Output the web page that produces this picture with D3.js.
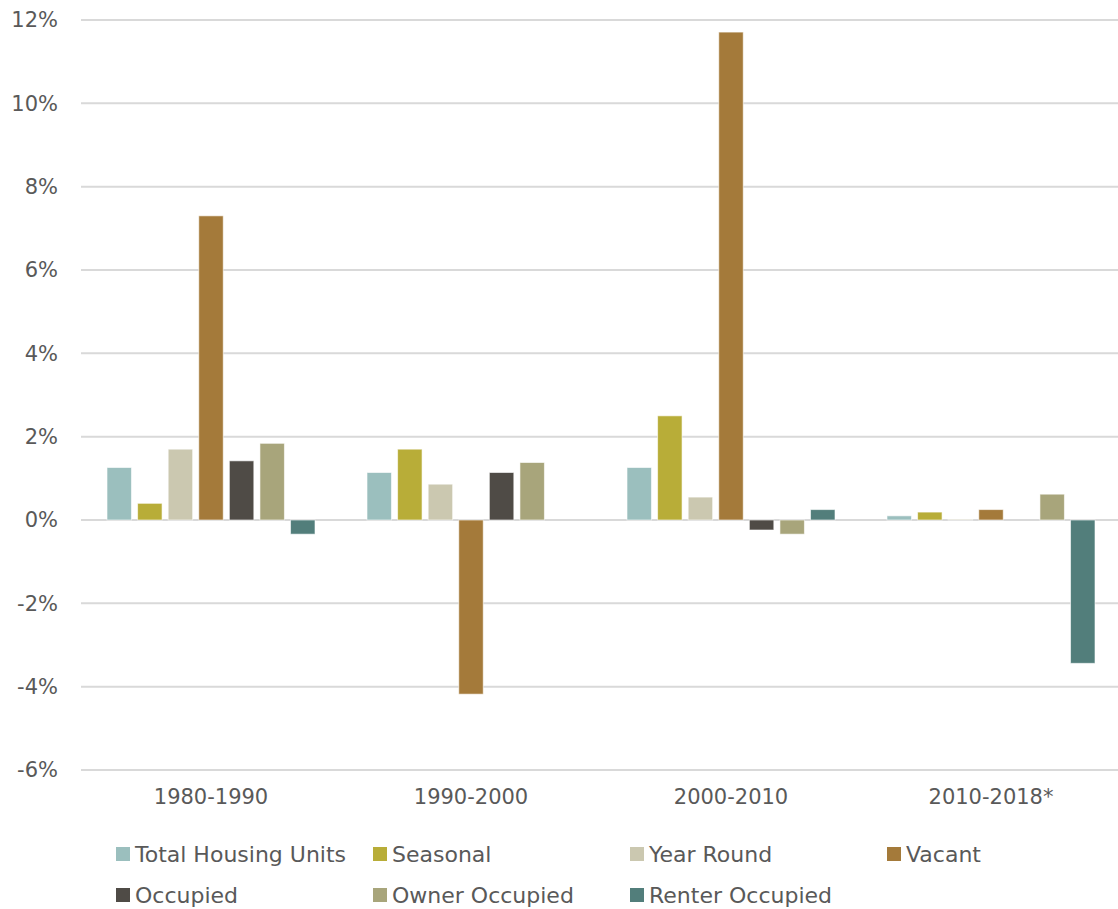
<!DOCTYPE html>
<html>
<head>
<meta charset="UTF-8">
<script src="https://cdn.jsdelivr.net/npm/d3@7"></script>
<style>
  body { margin: 0; background: #fff; }
  text { font-family: "DejaVu Sans", sans-serif; fill: #595959; }
</style>
</head>
<body>
<svg width="1118" height="909"></svg>
<script>
// chart data
const periods = ["1980-1990", "1990-2000", "2000-2010", "2010-2018*"];
const seriesNames = ["Total Housing Units", "Seasonal", "Year Round", "Vacant",
                     "Occupied", "Owner Occupied", "Renter Occupied"];
const seriesColors = ["#9bbfbe", "#b8ad38", "#cbc8b0", "#a47a3a",
                      "#4f4b46", "#a8a57b", "#527e7b"];
// values in percent, one array per series (order follows periods)
const totalHousing = [1.26, 1.14, 1.26, 0.10];
const seasonal     = [0.40, 1.70, 2.50, 0.19];
const yearRound    = [1.70, 0.86, 0.55, 0.02];
const vacant       = [7.30, -4.18, 11.71, 0.25];
const occupied     = [1.42, 1.14, -0.24, 0.00];
const ownerOcc     = [1.84, 1.38, -0.34, 0.62];
const renterOcc    = [-0.34, 0.00, 0.25, -3.44];
const yTicks = [-6, -4, -2, 0, 2, 4, 6, 8, 10, 12];

const allSeries = [totalHousing, seasonal, yearRound, vacant, occupied, ownerOcc, renterOcc];

const svg = d3.select("svg");
const plotLeft = 81, plotRight = 1121, plotTop = 20, plotBottom = 770;

const x0 = d3.scaleBand().domain(periods).range([plotLeft, plotRight]).paddingInner(0).paddingOuter(0);
const x1 = d3.scaleBand().domain(seriesNames).range([26, 234]).paddingInner(0.2).paddingOuter(0);
const y = d3.scaleLinear().domain([-6, 12]).range([plotBottom, plotTop]);

// gridlines
svg.append("g")
  .selectAll("line")
  .data(yTicks)
  .join("line")
  .attr("x1", plotLeft).attr("x2", 1118)
  .attr("y1", d => y(d)).attr("y2", d => y(d))
  .attr("stroke", "#d9d9d9").attr("stroke-width", 2);

// y axis labels
const yAxis = svg.append("g")
  .attr("transform", `translate(${plotLeft},0)`)
  .call(d3.axisLeft(y).tickValues(yTicks).tickFormat(d => d + "%").tickSize(0).tickPadding(23));
yAxis.select(".domain").remove();
yAxis.attr("font-family", null).attr("font-size", 21);

// bars
const groups = svg.append("g")
  .selectAll("g")
  .data(periods)
  .join("g")
  .attr("transform", d => `translate(${x0(d)},0)`);

groups.selectAll("rect")
  .data((p, i) => seriesNames.map((s, j) => ({ s: s, v: allSeries[j][i], c: seriesColors[j] })).filter(d => d.v !== 0))
  .join("rect")
  .attr("x", d => x1(d.s))
  .attr("width", x1.bandwidth())
  .attr("y", d => y(Math.max(0, d.v)))
  .attr("height", d => Math.abs(y(d.v) - y(0)))
  .attr("fill", d => d.c)
  .attr("stroke", "#ffffff")
  .attr("stroke-opacity", 0.6)
  .attr("stroke-width", 1);

// category labels
const xAxis = svg.append("g")
  .attr("transform", `translate(0,${plotBottom})`)
  .call(d3.axisBottom(x0).tickSize(0).tickPadding(19));
xAxis.select(".domain").remove();
xAxis.attr("font-family", null).attr("font-size", 21);

// legend
const legend = svg.append("g")
  .selectAll("g")
  .data(seriesNames)
  .join("g")
  .attr("transform", (d, i) => `translate(${116 + (i % 4) * 257},${i < 4 ? 854 : 895})`);

legend.append("rect")
  .attr("x", 0).attr("y", -7)
  .attr("width", 14).attr("height", 14)
  .attr("fill", (d, i) => seriesColors[i]);

legend.append("text")
  .attr("x", 19).attr("y", 0)
  .attr("dy", "0.35em")
  .attr("font-size", 22)
  .text(d => d);
</script>
</body>
</html>
